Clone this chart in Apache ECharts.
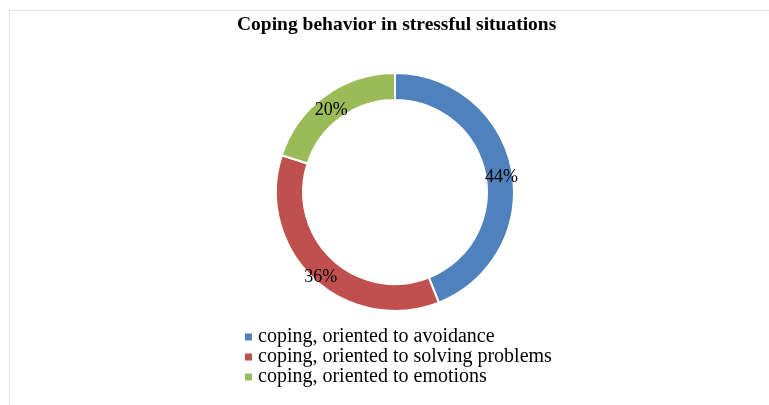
<!DOCTYPE html>
<html>
<head>
<meta charset="utf-8">
<script src="https://cdn.jsdelivr.net/npm/echarts@6/dist/echarts.min.js"></script>
<style>
  html, body { margin: 0; padding: 0; background: #fff; }
  #frame {
    position: absolute; left: 9px; top: 10px; width: 760px; height: 395px;
    border-left: 1px solid #e3e3e3; border-top: 1px solid #e3e3e3;
  }
  #chart { position: absolute; left: 0; top: 0; width: 769px; height: 405px; }
</style>
</head>
<body>
<div id="frame"></div>
<div id="chart"></div>
<script>
  // data
  const titleText = 'Coping behavior in stressful situations'
  const categories = ['coping, oriented to avoidance', 'coping, oriented to solving problems', 'coping, oriented to emotions']
  const shares = [44, 36, 20]
  const colors = ['#4f81bd', '#c0504d', '#9bbb59']

  let chart = echarts.init(document.getElementById('chart'))
  chart.setOption({
    animation: false,
    textStyle: { fontFamily: 'Liberation Serif' },
    title: {
      text: titleText,
      left: 232,
      top: 10,
      textStyle: { fontFamily: 'Liberation Serif', fontWeight: 'bold', fontSize: 19.5, color: '#000' }
    },
    legend: {
      orient: 'vertical',
      left: 238,
      top: 322,
      itemWidth: 9,
      itemHeight: 9,
      itemGap: 0,
      icon: 'rect',
      data: categories,
      textStyle: { fontFamily: 'Liberation Serif', fontSize: 20, color: '#000' }
    },
    series: [{
      type: 'pie',
      center: [395, 192],
      radius: [92, 119],
      startAngle: 90,
      clockwise: true,
      itemStyle: { borderColor: '#fff', borderWidth: 2 },
      label: {
        position: 'inside',
        formatter: '{c}%',
        fontFamily: 'Liberation Serif',
        fontSize: 18,
        color: '#000'
      },
      labelLayout: { dy: 6 },
      labelLine: { show: false },
      data: categories.map(function (name, i) {
        return { name: name, value: shares[i], itemStyle: { color: colors[i] } }
      })
    }]
  })
</script>
</body>
</html>
